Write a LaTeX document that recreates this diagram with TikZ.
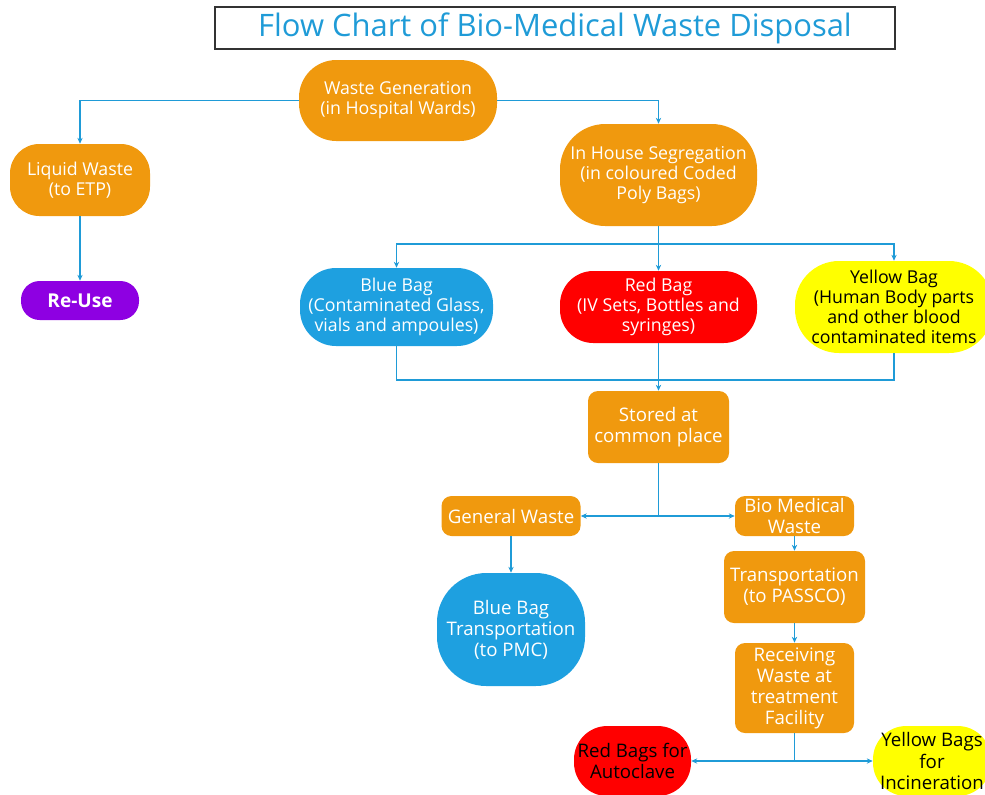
\documentclass[tikz,border=0pt]{standalone}
\usepackage{fontspec}
\setmainfont{Open Sans}
\usetikzlibrary{arrows.meta}
\definecolor{orng}{HTML}{F0990E}
\definecolor{blu}{HTML}{1EA0E0}
\definecolor{lin}{HTML}{1F9BD7}
\definecolor{purp}{HTML}{8E00E2}
\definecolor{redc}{HTML}{FF0000}
\definecolor{yelc}{HTML}{FFFF00}
\tikzset{
  box/.style={draw=none, align=center, inner sep=0pt, text=white, font=\fontsize{13.3}{15}\selectfont},
  sbox/.style={box, font=\fontsize{14}{15.8}\selectfont},
  conn/.style={draw=lin, line width=0.8pt, -{Stealth[length=4.5pt,width=4pt]}},
  plain/.style={draw=lin, line width=0.8pt},
}
\begin{document}
\begin{tikzpicture}[x=0.75pt,y=0.75pt]
\useasboundingbox (0,0) rectangle (985,-794);
\clip (0,0) rectangle (985,-794);
% title
\node[draw=black!80, line width=0.8pt, minimum width=510pt, minimum height=31.5pt, inner sep=0pt, text=lin, font=\fontsize{23.2}{26}\selectfont] (title) at (555,-28) {Flow Chart of Bio-Medical Waste Disposal};
% nodes
\node[box, fill=orng, minimum width=148.5pt, minimum height=60.75pt, rounded corners=28pt] (wg) at (398,-100.5) {Waste Generation\\(in Hospital Wards)};
\node[box, fill=orng, minimum width=105pt, minimum height=54pt, rounded corners=22pt] (lw) at (80,-180) {Liquid Waste\\(to ETP)};
\node[box, fill=purp, minimum width=88.5pt, minimum height=29.25pt, rounded corners=14pt, font=\fontsize{14.3}{16}\selectfont\bfseries] (ru) at (80,-300.5) {Re-Use};
\node[box, fill=orng, minimum width=147.75pt, minimum height=76.5pt, rounded corners=34pt] (ihs) at (658.5,-175) {In House Segregation\\(in coloured Coded\\Poly Bags)};
\node[box, fill=blu, minimum width=144.75pt, minimum height=58.5pt, rounded corners=27pt] (bb) at (396.5,-307) {Blue Bag\\(Contaminated Glass,\\vials and ampoules)};
\node[box, fill=redc, minimum width=147.75pt, minimum height=54pt, rounded corners=25pt] (rb) at (658.5,-307) {Red Bag\\(IV Sets, Bottles and\\syringes)};
\node[box, fill=yelc, text=black, minimum width=148.5pt, minimum height=69pt, rounded corners=33pt] (yb) at (894,-307) {Yellow Bag\\(Human Body parts\\and other blood\\contaminated items};
\node[sbox, fill=orng, minimum width=105.75pt, minimum height=54pt, rounded corners=7.5pt] (st) at (658.5,-427) {Stored at\\common place};
\node[sbox, fill=orng, minimum width=104.25pt, minimum height=30pt, rounded corners=7.5pt] (gw) at (511,-516) {General Waste};
\node[sbox, fill=orng, minimum width=89.25pt, minimum height=30pt, rounded corners=7.5pt] (bmw) at (794.5,-516) {Bio Medical\\Waste};
\node[sbox, fill=orng, minimum width=105.75pt, minimum height=54pt, rounded corners=7.5pt] (tr) at (794.5,-587) {Transportation\\(to PASSCO)};
\node[sbox, fill=orng, minimum width=89.25pt, minimum height=67.5pt, rounded corners=7.5pt] (rw) at (794.5,-688) {Receiving\\Waste at\\treatment\\Facility};
\node[sbox, fill=blu, minimum width=111pt, minimum height=84.75pt, rounded corners=37pt] (bbt) at (511,-629.5) {Blue Bag\\Transportation\\(to PMC)};
\node[sbox, fill=redc, text=black, minimum width=87.75pt, minimum height=52.5pt, rounded corners=25pt] (rba) at (632.5,-761) {Red Bags for\\Autoclave};
\node[sbox, fill=yelc, text=black, minimum width=88.5pt, minimum height=52.5pt, rounded corners=25pt] (yba) at (932,-761) {Yellow Bags\\for\\Incineration};
% junction coordinates
\coordinate (j1) at (658.5,-244);
\coordinate (j2) at (658.5,-380);
\coordinate (j3) at (658.5,-516);
\coordinate (j4) at (794.5,-761);
% connectors
\draw[conn] (wg.west) -| (lw.north);
\draw[conn] (wg.east) -| (ihs.north);
\draw[conn] (lw.south) -- (ru.north);
\draw[plain] (ihs.south) -- (j1);
\draw[conn] (j1) -| (bb.north);
\draw[conn] (j1) -- (rb.north);
\draw[conn] (j1) -| (yb.north);
\draw[plain] (bb.south) |- (j2);
\draw[plain] (yb.south) |- (j2);
\draw[conn] (rb.south) -- (st.north);
\draw[plain] (st.south) -- (j3);
\draw[conn] (j3) -- (gw.east);
\draw[conn] (j3) -- (bmw.west);
\draw[conn] (gw.south) -- (bbt.north);
\draw[conn] (bmw.south) -- (tr.north);
\draw[conn] (tr.south) -- (rw.north);
\draw[plain] (rw.south) -- (j4);
\draw[conn] (j4) -- (rba.east);
\draw[conn] (j4) -- (yba.west);
\end{tikzpicture}
\end{document}
